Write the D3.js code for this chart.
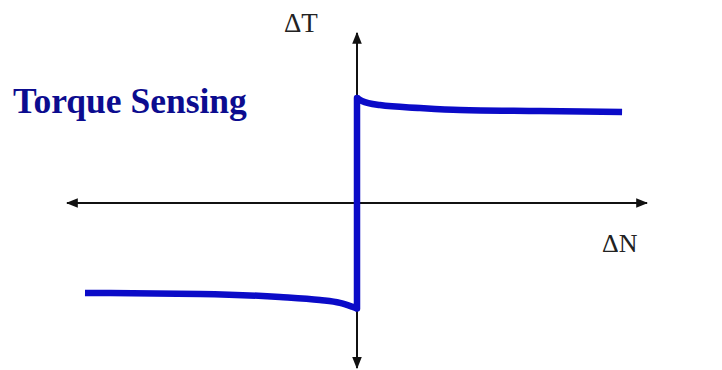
<!DOCTYPE html>
<html>
<head>
<meta charset="utf-8">
<script src="https://cdn.jsdelivr.net/npm/d3@7"></script>
<style>
  body { margin: 0; background: #fff; }
  svg { display: block; }
</style>
</head>
<body>
<div id="chart"></div>
<script>
// torque response to a step in speed (arbitrary units, -1..1)
let lowerBranch = [
    {n: -0.938, t: -0.529},
    {n: -0.541, t: -0.535},
    {n: -0.266, t: -0.553},
    {n: -0.128, t: -0.571},
    {n: -0.059, t: -0.588},
    {n: -0.017, t: -0.610},
    {n: 0.000, t: -0.620}
];
let jump = [
    {n: 0.000, t: -0.620},
    {n: 0.000, t: 0.618}
];
let upperBranch = [
    {n: 0.000, t: 0.618},
    {n: 0.017, t: 0.600},
    {n: 0.079, t: 0.576},
    {n: 0.217, t: 0.559},
    {n: 0.355, t: 0.547},
    {n: 0.631, t: 0.541},
    {n: 0.914, t: 0.535}
];
let axisLabels = {x: "\u0394N", y: "\u0394T"};
let titleText = "Torque Sensing";

let width = 722, height = 370;

let svg = d3.select("#chart").append("svg")
    .attr("width", width)
    .attr("height", height);

let xScale = d3.scaleLinear().domain([-1, 1]).range([67, 647]);
let yScale = d3.scaleLinear().domain([-1, 1]).range([373, 33]);

// arrow heads
let defs = svg.append("defs");
defs.append("marker")
    .attr("id", "arrow")
    .attr("viewBox", "0 0 10 10")
    .attr("refX", 9)
    .attr("refY", 5)
    .attr("markerWidth", 6)
    .attr("markerHeight", 6)
    .attr("markerUnits", "strokeWidth")
    .attr("orient", "auto-start-reverse")
    .append("path")
    .attr("d", "M0,1 L10,5 L0,9 Z")
    .attr("fill", "#111");

// axes
svg.append("line")
    .attr("x1", xScale(-1)).attr("x2", xScale(1))
    .attr("y1", yScale(0)).attr("y2", yScale(0))
    .attr("stroke", "#111").attr("stroke-width", 2)
    .attr("marker-start", "url(#arrow)")
    .attr("marker-end", "url(#arrow)");

svg.append("line")
    .attr("x1", xScale(0)).attr("x2", xScale(0))
    .attr("y1", yScale(-0.97)).attr("y2", yScale(1))
    .attr("stroke", "#111").attr("stroke-width", 2)
    .attr("marker-start", "url(#arrow)")
    .attr("marker-end", "url(#arrow)");

// response curve
let curveLine = d3.line()
    .x(d => xScale(d.n))
    .y(d => yScale(d.t))
    .curve(d3.curveMonotoneX);
let straight = d3.line()
    .x(d => xScale(d.n))
    .y(d => yScale(d.t));

[lowerBranch, upperBranch].forEach(b => {
    svg.append("path")
        .attr("d", curveLine(b))
        .attr("fill", "none")
        .attr("stroke", "#0b0bc8")
        .attr("stroke-width", 6.5)
        .attr("stroke-linecap", "butt")
        .attr("stroke-linejoin", "round");
});
svg.append("path")
    .attr("d", straight(jump))
    .attr("fill", "none")
    .attr("stroke", "#0b0bc8")
    .attr("stroke-width", 6.5)
    .attr("stroke-linecap", "round");

// labels
svg.append("text")
    .attr("x", 284).attr("y", 32)
    .attr("font-family", "Liberation Serif, Times New Roman, serif")
    .attr("font-size", 27)
    .attr("fill", "#222")
    .text(axisLabels.y);

svg.append("text")
    .attr("x", 602).attr("y", 252)
    .attr("font-family", "Liberation Serif, Times New Roman, serif")
    .attr("font-size", 26)
    .attr("fill", "#222")
    .text(axisLabels.x);

svg.append("text")
    .attr("x", 13).attr("y", 113)
    .attr("font-family", "Liberation Serif, Times New Roman, serif")
    .attr("font-weight", "bold")
    .attr("font-size", 35.5)
    .attr("fill", "#0c0c8f")
    .text(titleText);
</script>
</body>
</html>
